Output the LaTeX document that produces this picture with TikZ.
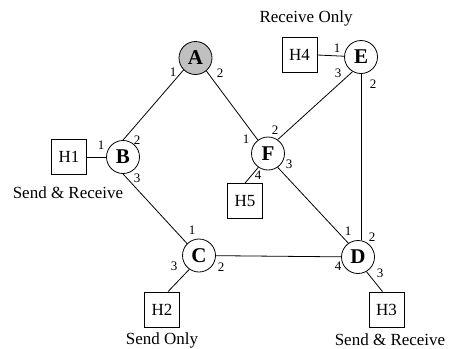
\documentclass[tikz,border=0pt]{standalone}
\usepackage{fontspec}
\setmainfont{Liberation Serif}
\tikzset{
  router/.style={circle, draw, line width=0.8bp, minimum size=33bp, inner sep=0pt, font=\fontsize{21bp}{22bp}\selectfont\bfseries},
  host/.style={rectangle, draw, line width=0.8bp, minimum size=35bp, inner sep=0pt, font=\fontsize{17bp}{18bp}\selectfont},
  port/.style={inner sep=0pt, font=\fontsize{13bp}{14bp}\selectfont},
  caption/.style={inner sep=0pt, font=\fontsize{17bp}{18bp}\selectfont},
  link/.style={line width=0.8bp}
}
\begin{document}
\begin{tikzpicture}[x=1bp,y=-1bp]
\useasboundingbox (0,0) rectangle (451,348);
% routers
\node[router, fill={rgb,255:red,192;green,192;blue,192}] (A) at (195.5,58) {A};
\node[router] (B) at (123,157) {B};
\node[router] (C) at (199,255.5) {C};
\node[router] (D) at (358,257) {D};
\node[router] (E) at (361,57) {E};
\node[router] (F) at (268,153.5) {F};
% hosts
\node[host] (H1) at (69,157) {H1};
\node[host] (H2) at (162,309.5) {H2};
\node[host] (H3) at (386.5,309.5) {H3};
\node[host] (H4) at (299.5,55) {H4};
\node[host] (H5) at (245,201) {H5};
% captions
\node[caption] (c4) at (306,18) {Receive Only};
\node[caption] (c1) at (68,193) {Send \& Receive};
\node[caption] (c2) at (162,340) {Send Only};
\node[caption] (c3) at (390,340) {Send \& Receive};
% links
\draw[link] (A.225) -- (B.north);
\draw[link] (A.-50) -- (F.127);
\draw[link] (B.south) -- (C.135);
\draw[link] (C) -- (D);
\draw[link] (F.55) -- (E.240);
\draw[link] (F.-55) -- (D.125);
\draw[link] (E.south) -- (E.south |- D.north);
\draw[link] (H1) -- (B);
\draw[link] (H4.east) -- (E);
\draw[link] (C.235) -- ([xshift=6bp]H2.north);
\draw[link] (D.300) -- ([xshift=-4bp]H3.north);
\draw[link] (F.235) -- (H5.north);
% port numbers
\node[port] (pA1) at (173,72) {1};
\node[port] (pA2) at (220,73) {2};
\node[port] (pB1) at (101,145) {1};
\node[port] (pB2) at (137,140) {2};
\node[port] (pB3) at (137,178) {3};
\node[port] (pE1) at (337,48) {1};
\node[port] (pE3) at (338,73) {3};
\node[port] (pE2) at (373,84) {2};
\node[port] (pF1) at (246,139) {1};
\node[port] (pF2) at (275,130) {2};
\node[port] (pF3) at (289,164) {3};
\node[port] (pF4) at (258,175) {4};
\node[port] (pC1) at (192,230) {1};
\node[port] (pC2) at (221,267) {2};
\node[port] (pC3) at (174,266) {3};
\node[port] (pD1) at (348,231) {1};
\node[port] (pD2) at (372,237) {2};
\node[port] (pD4) at (338,266) {4};
\node[port] (pD3) at (380,273) {3};
\end{tikzpicture}
\end{document}
